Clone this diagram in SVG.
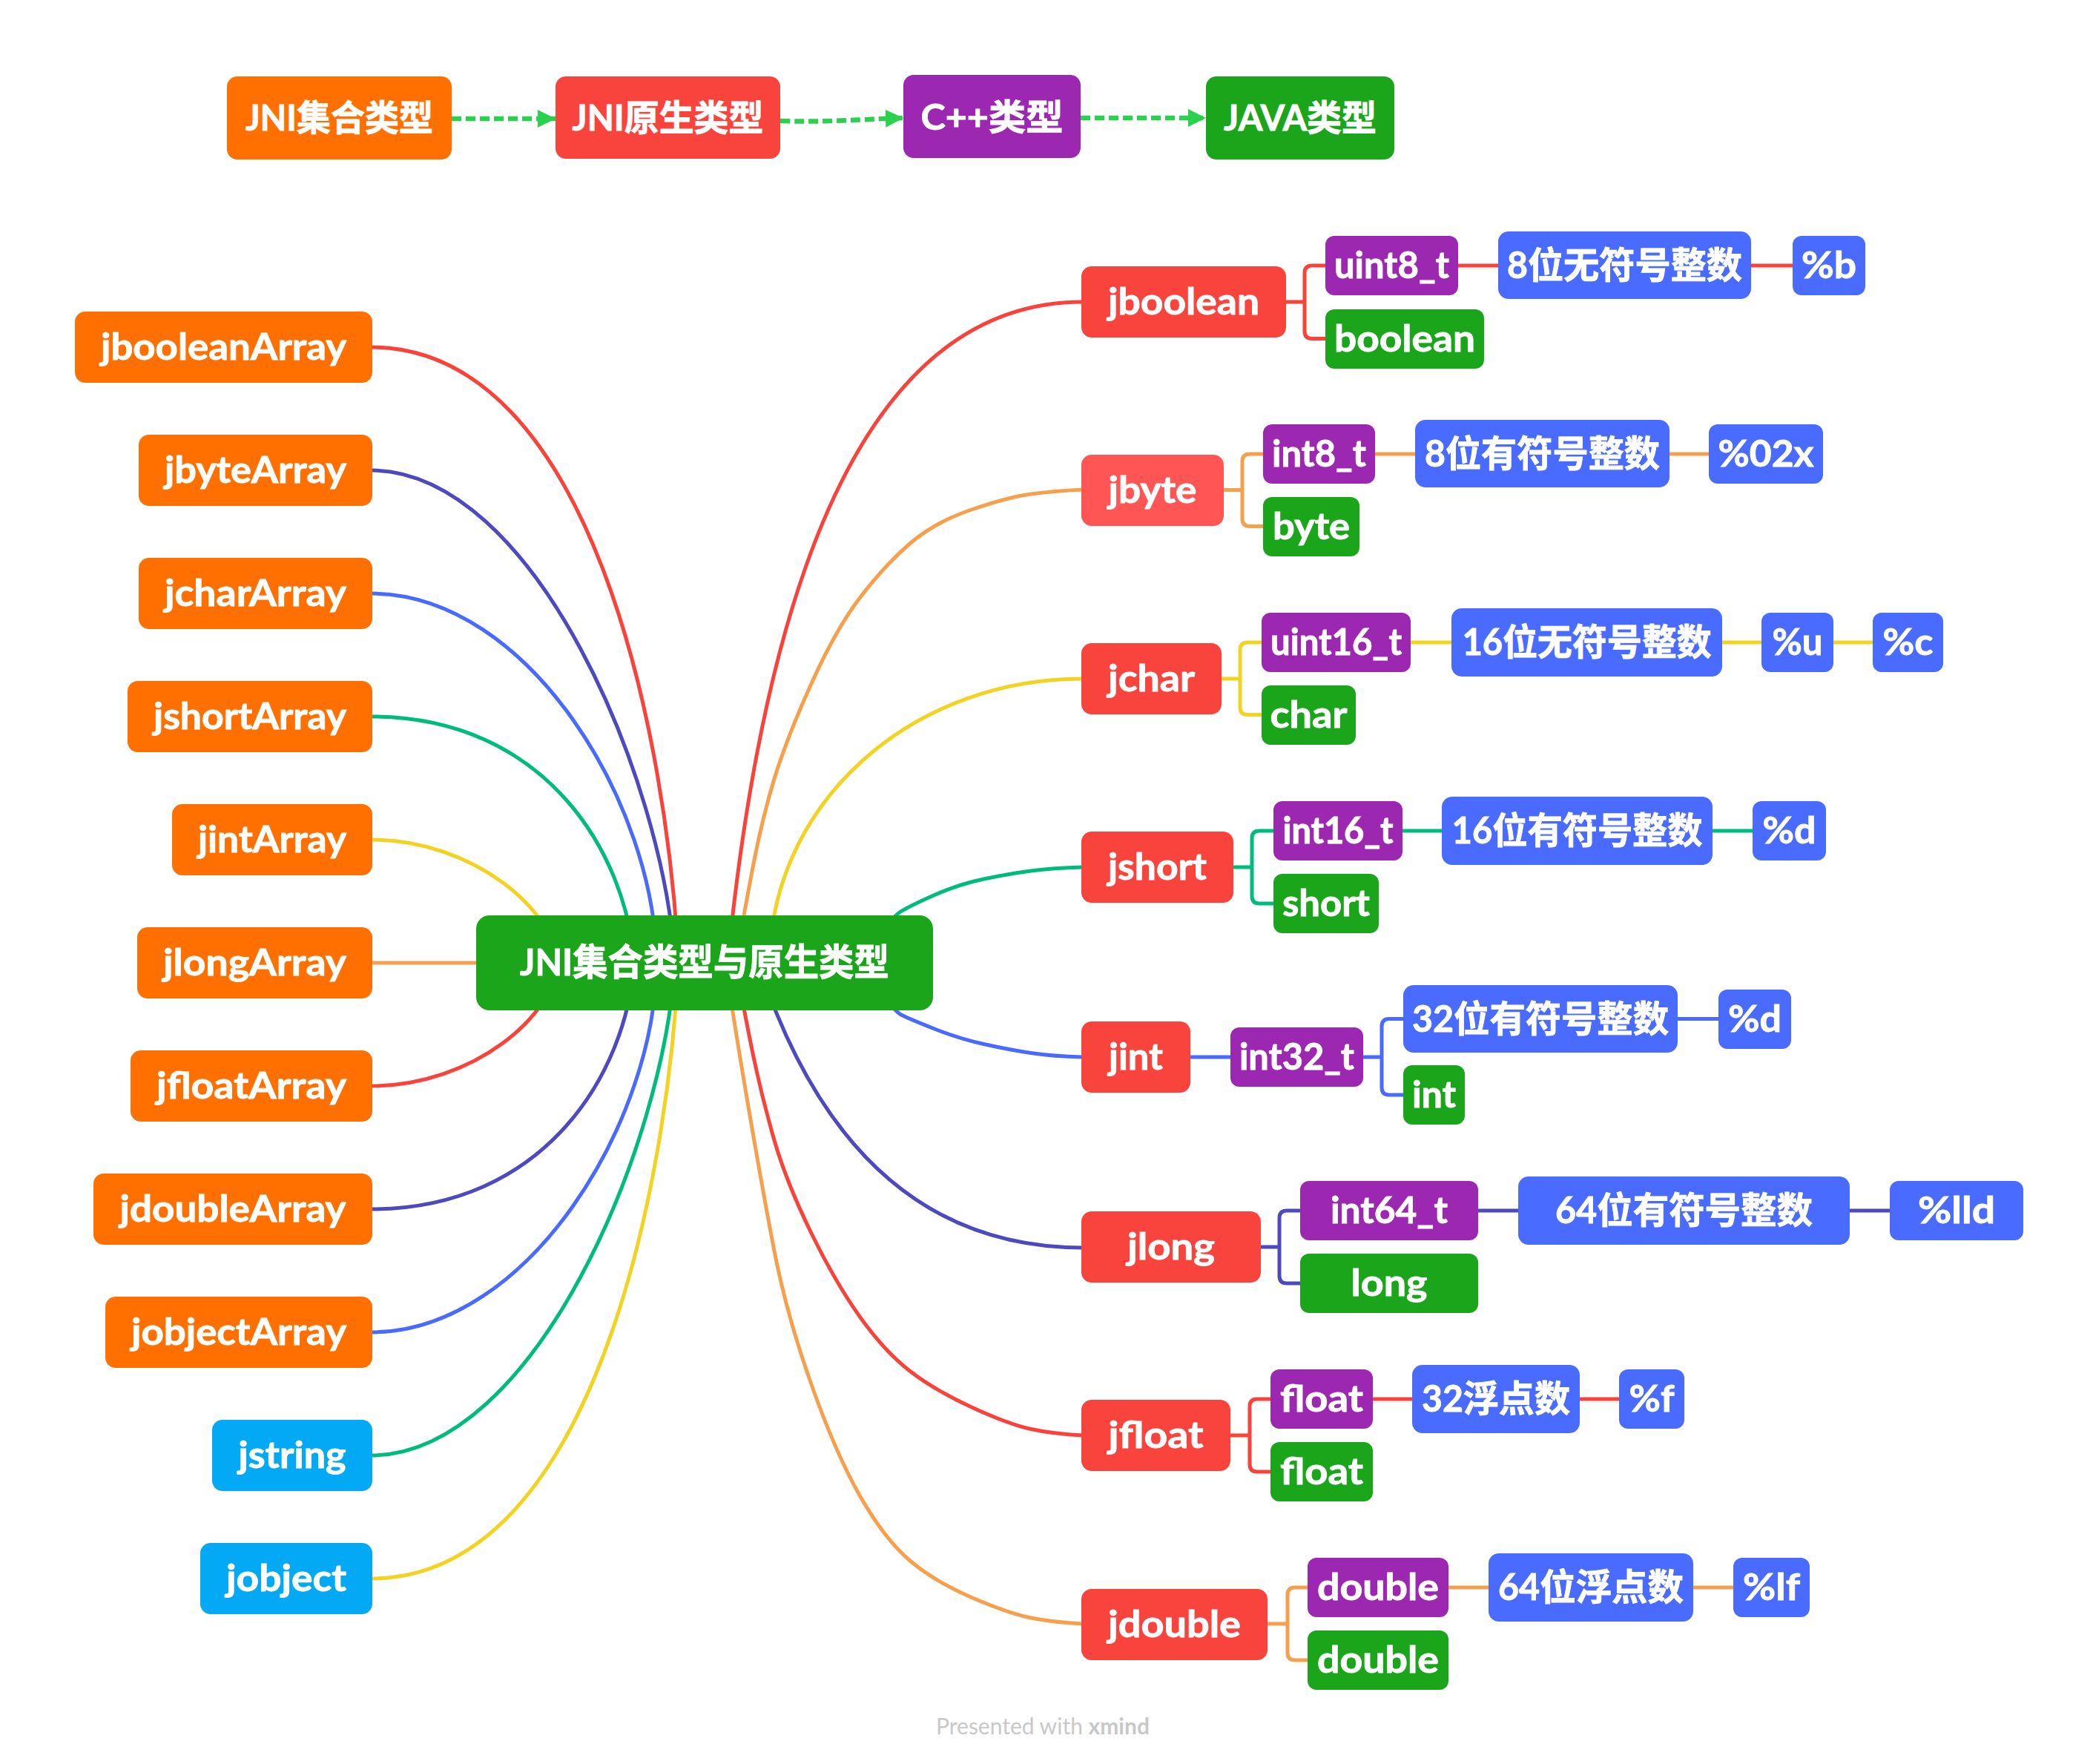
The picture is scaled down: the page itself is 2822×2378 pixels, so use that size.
<svg xmlns="http://www.w3.org/2000/svg" width="2822" height="2378" viewBox="0 0 2822 2378">
<style>
  .bg { fill: #ffffff; }
  .orange { fill: #FF7000; }
  .red { fill: #F9443E; }
  .red2 { fill: #FF5555; }
  .purple { fill: #9C27B0; }
  .green { fill: #1BA51B; }
  .blue { fill: #4A6BFF; }
  .cyan { fill: #03A9F4; }
  .t { font-family: "Lato", "Noto Sans CJK SC", sans-serif; font-weight: 700; font-size: 49px; fill: #ffffff; stroke: #ffffff; stroke-width: 0.9px; text-anchor: middle; }
  .tc { font-family: "Lato", "Noto Sans CJK SC", sans-serif; font-weight: 700; font-size: 48px; fill: #ffffff; stroke: #ffffff; stroke-width: 0.9px; text-anchor: middle; }
  .link { fill: none; stroke-width: 5; }
  .cR { stroke: #F9423A; }
  .cO { stroke: #F6A04D; }
  .cY { stroke: #F3D321; }
  .cG { stroke: #00BC7B; }
  .cB { stroke: #486AFF; }
  .cI { stroke: #4D49BE; }
  .flow { fill: none; stroke: #2BD04F; stroke-width: 6.5; stroke-dasharray: 13 6; }
  .foot { font-family: "Lato", "Open Sans", sans-serif; font-size: 30px; fill: #c8c8c8; }
</style>
<defs>
  <marker id="arrow" viewBox="0 0 24 24" refX="24" refY="12" markerWidth="24" markerHeight="24" markerUnits="userSpaceOnUse" orient="auto">
    <path d="M0,0 L24,12 L0,24 z" fill="#2BD04F"/>
  </marker>
</defs>
<rect class="bg" x="0" y="0" width="2822" height="2378"/>

<!-- connectors -->
<g id="connectors">
  <!-- legend flow -->
  <path class="flow" d="M609,160 L749,160" marker-end="url(#arrow)"/>
  <path class="flow" d="M1052,163 C1110,165 1160,161 1218,159" marker-end="url(#arrow)"/>
  <path class="flow" d="M1457,159 L1626,159" marker-end="url(#arrow)"/>

  <!-- root to left branches (upper half) -->
  <path class="link cR" d="M915,1298 C900,1000 800,468 500,468"/>
  <path class="link cI" d="M910,1298 C895,1050 720,634 500,634"/>
  <path class="link cB" d="M885,1298 C885,1090 715,800 500,800"/>
  <path class="link cG" d="M855,1298 C845,1150 735,966 500,966"/>
  <path class="link cY" d="M750,1298 C750,1230 640,1132 500,1132"/>
  <path class="link cO" d="M500,1298 L700,1298"/>
  <!-- root to left branches (lower half, mirrored about the root axis) -->
  <g transform="matrix(1 0 0 -1 0 2596)">
    <path class="link cY" d="M915,1298 C900,1000 800,468 500,468"/>
    <path class="link cG" d="M910,1298 C895,1050 720,634 500,634"/>
    <path class="link cB" d="M885,1298 C885,1090 715,800 500,800"/>
    <path class="link cI" d="M855,1298 C845,1150 735,966 500,966"/>
    <path class="link cR" d="M750,1298 C750,1230 640,1132 500,1132"/>
  </g>

  <!-- root to right branches -->
  <path class="link cR" d="M981,1298 Q1069,407 1460,407"/>
  <path class="link cO" d="M991,1298 Q1002,1238 1014.5,1172 Q1027,1106 1043.5,1051.5 Q1060,997 1093.5,922.5 Q1127,848 1160,805 Q1193,762 1226.5,733 Q1260,704 1310,687 Q1360,670 1390,666 Q1420,662 1460,660"/>
  <path class="link cY" d="M1038,1298 A420,383 0 0 1 1458,915 L1460,915"/>
  <path class="link cG" d="M1160,1298 Q1200,1238 1213.5,1229.5 Q1227,1221 1260,1206.5 Q1293,1192 1326.5,1185 Q1360,1178 1390,1174 Q1420,1170 1460,1169"/>
  <path class="link cB" d="M1160,1298 Q1203,1362 1215,1368 Q1227,1374 1260,1387 Q1293,1400 1326.5,1407.5 Q1360,1415 1390,1419.5 Q1420,1424 1460,1425"/>
  <path class="link cI" d="M1022,1298 Q1148,1682 1460,1682"/>
  <path class="link cR" d="M992,1298 Q1003,1362 1015,1420 Q1027,1478 1043.5,1535.5 Q1060,1593 1093.5,1661.5 Q1127,1730 1160,1776 Q1193,1822 1226.5,1848 Q1260,1874 1310,1897 Q1360,1920 1390,1926.5 Q1420,1933 1460,1935"/>
  <path class="link cO" d="M978,1298 Q987,1362 1007,1480 Q1027,1598 1043.5,1684 Q1060,1770 1093.5,1865 Q1127,1960 1160,2017.5 Q1193,2075 1226.5,2103.5 Q1260,2132 1310,2153.5 Q1360,2175 1390,2181 Q1420,2187 1460,2189"/>

  <!-- jboolean -->
  <path class="link cR" d="M1732,407 H1759 M1790,358 H1769 Q1759,358 1759,368 V446.5 Q1759,456.5 1769,456.5 H1790 M1964,358 H2022 M2359,358 H2419"/>
  <!-- jbyte -->
  <path class="link cO" d="M1648,660.5 H1675 M1706,612 H1685 Q1675,612 1675,622 V699.5 Q1675,709.5 1685,709.5 H1706 M1852,612 H1910 M2249,612 H2306"/>
  <!-- jchar -->
  <path class="link cY" d="M1645,915 H1672 M1704,866 H1682 Q1672,866 1672,876 V953.5 Q1672,963.5 1682,963.5 H1704 M1900,866 H1959 M2320,866 H2377 M2470,866 H2527"/>
  <!-- jshort -->
  <path class="link cG" d="M1661,1169 H1688 M1720,1120 H1698 Q1688,1120 1688,1130 V1208 Q1688,1218 1698,1218 H1720 M1889,1120 H1946 M2307,1120 H2365"/>
  <!-- jint -->
  <path class="link cB" d="M1603,1425 H1661 M1836,1425 H1863 M1895,1373.5 H1873 Q1863,1373.5 1863,1383.5 V1466 Q1863,1476 1873,1476 H1895 M2260,1373.5 H2319"/>
  <!-- jlong -->
  <path class="link cI" d="M1698,1681 H1725 M1756,1632 H1735 Q1725,1632 1725,1642 V1720 Q1725,1730 1735,1730 H1756 M1991,1632 H2049 M2492,1632 H2550"/>
  <!-- jfloat -->
  <path class="link cR" d="M1657,1935 H1685 M1716,1886 H1695 Q1685,1886 1685,1896 V1974 Q1685,1984 1695,1984 H1716 M1849,1886 H1906 M2128,1886 H2185"/>
  <!-- jdouble -->
  <path class="link cO" d="M1707,2189 H1736 M1766,2140 H1746 Q1736,2140 1736,2150 V2228 Q1736,2238 1746,2238 H1766 M1950,2140 H2009 M2281,2140 H2339"/>
</g>

<!-- legend -->
<g id="legend-collection"><rect class="orange" x="306" y="103" width="303" height="112" rx="14"/><text class="tc" x="457.5" y="176" textLength="253" lengthAdjust="spacingAndGlyphs">JNI集合类型</text></g>
<g id="legend-native"><rect class="red" x="749" y="103" width="303" height="111" rx="14"/><text class="tc" x="900.5" y="176" textLength="258" lengthAdjust="spacingAndGlyphs">JNI原生类型</text></g>
<g id="legend-cpp"><rect class="purple" x="1218" y="101" width="239" height="112" rx="14"/><text class="tc" x="1337.5" y="175" textLength="192" lengthAdjust="spacingAndGlyphs">C++类型</text></g>
<g id="legend-java"><rect class="green" x="1626" y="103" width="254" height="112" rx="14"/><text class="tc" x="1753" y="176" textLength="206" lengthAdjust="spacingAndGlyphs">JAVA类型</text></g>

<!-- root -->
<g id="root"><rect class="green" x="642" y="1234" width="616" height="128" rx="18"/><text class="t" style="font-size:50px" x="950" y="1315" textLength="498" lengthAdjust="spacingAndGlyphs">JNI集合类型与原生类型</text></g>

<!-- collection types -->
<g id="jbooleanArray"><rect class="orange" x="101" y="420" width="401" height="96" rx="14"/><text class="t" x="301.5" y="485" textLength="331" lengthAdjust="spacingAndGlyphs">jbooleanArray</text></g>
<g id="jbyteArray"><rect class="orange" x="187" y="586" width="315" height="96" rx="14"/><text class="t" x="344.5" y="651" textLength="245" lengthAdjust="spacingAndGlyphs">jbyteArray</text></g>
<g id="jcharArray"><rect class="orange" x="187" y="752" width="315" height="96" rx="14"/><text class="t" x="344.5" y="817" textLength="245" lengthAdjust="spacingAndGlyphs">jcharArray</text></g>
<g id="jshortArray"><rect class="orange" x="172" y="918" width="330" height="96" rx="14"/><text class="t" x="337" y="983" textLength="260" lengthAdjust="spacingAndGlyphs">jshortArray</text></g>
<g id="jintArray"><rect class="orange" x="232" y="1084" width="270" height="96" rx="14"/><text class="t" x="367" y="1149" textLength="200" lengthAdjust="spacingAndGlyphs">jintArray</text></g>
<g id="jlongArray"><rect class="orange" x="185" y="1250" width="317" height="96" rx="14"/><text class="t" x="343.5" y="1315" textLength="247" lengthAdjust="spacingAndGlyphs">jlongArray</text></g>
<g id="jfloatArray"><rect class="orange" x="176" y="1416" width="326" height="96" rx="14"/><text class="t" x="339" y="1481" textLength="256" lengthAdjust="spacingAndGlyphs">jfloatArray</text></g>
<g id="jdoubleArray"><rect class="orange" x="126" y="1582" width="376" height="96" rx="14"/><text class="t" x="314" y="1647" textLength="305" lengthAdjust="spacingAndGlyphs">jdoubleArray</text></g>
<g id="jobjectArray"><rect class="orange" x="142" y="1748" width="360" height="96" rx="14"/><text class="t" x="322" y="1813" textLength="290" lengthAdjust="spacingAndGlyphs">jobjectArray</text></g>
<g id="jstring"><rect class="cyan" x="286" y="1914" width="216" height="96" rx="14"/><text class="t" x="394" y="1979" textLength="145" lengthAdjust="spacingAndGlyphs">jstring</text></g>
<g id="jobject"><rect class="cyan" x="270" y="2080" width="232" height="96" rx="14"/><text class="t" x="386" y="2145" textLength="162" lengthAdjust="spacingAndGlyphs">jobject</text></g>

<!-- native types -->
<g id="jboolean">
  <rect class="red" x="1458" y="359" width="276" height="96" rx="14"/><text class="t" x="1596" y="424" textLength="204" lengthAdjust="spacingAndGlyphs">jboolean</text>
  <rect class="purple" x="1787" y="318" width="179" height="80" rx="12"/><text class="t" x="1876.5" y="375" textLength="155" lengthAdjust="spacingAndGlyphs">uint8_t</text>
  <rect class="green" x="1787" y="417" width="214" height="80" rx="12"/><text class="t" x="1894" y="474" textLength="190" lengthAdjust="spacingAndGlyphs">boolean</text>
  <rect class="blue" x="2020" y="312" width="341" height="91" rx="14"/><text class="t" x="2190.5" y="375" textLength="317" lengthAdjust="spacingAndGlyphs">8位无符号整数</text>
  <rect class="blue" x="2417" y="318" width="98" height="80" rx="12"/><text class="t" x="2466" y="375" textLength="74" lengthAdjust="spacingAndGlyphs">%b</text>
</g>
<g id="jbyte">
  <rect class="red2" x="1458" y="613" width="192" height="96" rx="14"/><text class="t" x="1554" y="678" textLength="119" lengthAdjust="spacingAndGlyphs">jbyte</text>
  <rect class="purple" x="1703" y="572" width="151" height="80" rx="12"/><text class="t" x="1778.5" y="629" textLength="127" lengthAdjust="spacingAndGlyphs">int8_t</text>
  <rect class="green" x="1703" y="670" width="130" height="80" rx="12"/><text class="t" x="1768" y="727" textLength="104" lengthAdjust="spacingAndGlyphs">byte</text>
  <rect class="blue" x="1908" y="566" width="343" height="91" rx="14"/><text class="t" x="2079.5" y="629" textLength="317" lengthAdjust="spacingAndGlyphs">8位有符号整数</text>
  <rect class="blue" x="2304" y="572" width="154" height="80" rx="12"/><text class="t" x="2381" y="629" textLength="129" lengthAdjust="spacingAndGlyphs">%02x</text>
</g>
<g id="jchar">
  <rect class="red" x="1458" y="867" width="189" height="96" rx="14"/><text class="t" x="1552.5" y="932" textLength="117" lengthAdjust="spacingAndGlyphs">jchar</text>
  <rect class="purple" x="1701" y="826" width="201" height="80" rx="12"/><text class="t" x="1801.5" y="883" textLength="177" lengthAdjust="spacingAndGlyphs">uint16_t</text>
  <rect class="green" x="1701" y="924" width="127" height="80" rx="12"/><text class="t" x="1764.5" y="981" textLength="104" lengthAdjust="spacingAndGlyphs">char</text>
  <rect class="blue" x="1957" y="820" width="365" height="92" rx="14"/><text class="t" x="2139.5" y="883" textLength="336" lengthAdjust="spacingAndGlyphs">16位无符号整数</text>
  <rect class="blue" x="2375" y="826" width="97" height="80" rx="12"/><text class="t" x="2423.5" y="883" textLength="68" lengthAdjust="spacingAndGlyphs">%u</text>
  <rect class="blue" x="2525" y="826" width="95" height="80" rx="12"/><text class="t" x="2572.5" y="883" textLength="68" lengthAdjust="spacingAndGlyphs">%c</text>
</g>
<g id="jshort">
  <rect class="red" x="1458" y="1121" width="205" height="96" rx="14"/><text class="t" x="1560.5" y="1186" textLength="133" lengthAdjust="spacingAndGlyphs">jshort</text>
  <rect class="purple" x="1717" y="1080" width="174" height="80" rx="12"/><text class="t" x="1804" y="1137" textLength="149" lengthAdjust="spacingAndGlyphs">int16_t</text>
  <rect class="green" x="1717" y="1178" width="142" height="80" rx="12"/><text class="t" x="1788" y="1235" textLength="118" lengthAdjust="spacingAndGlyphs">short</text>
  <rect class="blue" x="1944" y="1074" width="365" height="92" rx="14"/><text class="t" x="2126.5" y="1137" textLength="338" lengthAdjust="spacingAndGlyphs">16位有符号整数</text>
  <rect class="blue" x="2363" y="1080" width="99" height="80" rx="12"/><text class="t" x="2412.5" y="1137" textLength="72" lengthAdjust="spacingAndGlyphs">%d</text>
</g>
<g id="jint">
  <rect class="red" x="1458" y="1377" width="147" height="96" rx="14"/><text class="t" x="1531.5" y="1442" textLength="73" lengthAdjust="spacingAndGlyphs">jint</text>
  <rect class="purple" x="1659" y="1385" width="179" height="80" rx="12"/><text class="t" x="1748.5" y="1442" textLength="155" lengthAdjust="spacingAndGlyphs">int32_t</text>
  <rect class="blue" x="1892" y="1328" width="370" height="91" rx="14"/><text class="t" x="2077" y="1391" textLength="346" lengthAdjust="spacingAndGlyphs">32位有符号整数</text>
  <rect class="green" x="1892" y="1436" width="83" height="80" rx="12"/><text class="t" x="1933.5" y="1493" textLength="59" lengthAdjust="spacingAndGlyphs">int</text>
  <rect class="blue" x="2317" y="1334" width="98" height="80" rx="12"/><text class="t" x="2366" y="1391" textLength="72" lengthAdjust="spacingAndGlyphs">%d</text>
</g>
<g id="jlong">
  <rect class="red" x="1458" y="1633" width="242" height="96" rx="14"/><text class="t" x="1579" y="1698" textLength="118" lengthAdjust="spacingAndGlyphs">jlong</text>
  <rect class="purple" x="1753" y="1592" width="240" height="80" rx="12"/><text class="t" x="1873" y="1649" textLength="158" lengthAdjust="spacingAndGlyphs">int64_t</text>
  <rect class="green" x="1753" y="1690" width="240" height="80" rx="12"/><text class="t" x="1873" y="1747" textLength="103" lengthAdjust="spacingAndGlyphs">long</text>
  <rect class="blue" x="2047" y="1586" width="447" height="92" rx="14"/><text class="t" x="2270.5" y="1649" textLength="347" lengthAdjust="spacingAndGlyphs">64位有符号整数</text>
  <rect class="blue" x="2548" y="1592" width="180" height="80" rx="12"/><text class="t" x="2638" y="1649" textLength="104" lengthAdjust="spacingAndGlyphs">%lld</text>
</g>
<g id="jfloat">
  <rect class="red" x="1458" y="1887" width="201" height="96" rx="14"/><text class="t" x="1558.5" y="1952" textLength="128" lengthAdjust="spacingAndGlyphs">jfloat</text>
  <rect class="purple" x="1713" y="1846" width="138" height="80" rx="12"/><text class="t" x="1782" y="1903" textLength="112" lengthAdjust="spacingAndGlyphs">float</text>
  <rect class="green" x="1713" y="1944" width="138" height="80" rx="12"/><text class="t" x="1782" y="2001" textLength="112" lengthAdjust="spacingAndGlyphs">float</text>
  <rect class="blue" x="1904" y="1840" width="226" height="92" rx="14"/><text class="t" x="2017" y="1903" textLength="200" lengthAdjust="spacingAndGlyphs">32浮点数</text>
  <rect class="blue" x="2183" y="1846" width="88" height="80" rx="12"/><text class="t" x="2227" y="1903" textLength="61" lengthAdjust="spacingAndGlyphs">%f</text>
</g>
<g id="jdouble">
  <rect class="red" x="1458" y="2142" width="251" height="96" rx="14"/><text class="t" x="1583.5" y="2207" textLength="179" lengthAdjust="spacingAndGlyphs">jdouble</text>
  <rect class="purple" x="1763" y="2100" width="190" height="80" rx="12"/><text class="t" x="1858" y="2157" textLength="164" lengthAdjust="spacingAndGlyphs">double</text>
  <rect class="green" x="1763" y="2198" width="190" height="80" rx="12"/><text class="t" x="1858" y="2255" textLength="164" lengthAdjust="spacingAndGlyphs">double</text>
  <rect class="blue" x="2007" y="2094" width="276" height="92" rx="14"/><text class="t" x="2145" y="2157" textLength="250" lengthAdjust="spacingAndGlyphs">64位浮点数</text>
  <rect class="blue" x="2337" y="2100" width="103" height="80" rx="12"/><text class="t" x="2388.5" y="2157" textLength="77" lengthAdjust="spacingAndGlyphs">%lf</text>
</g>

<text class="foot" x="1262" y="2338">Presented with <tspan font-weight="700">xmind</tspan></text>
</svg>
